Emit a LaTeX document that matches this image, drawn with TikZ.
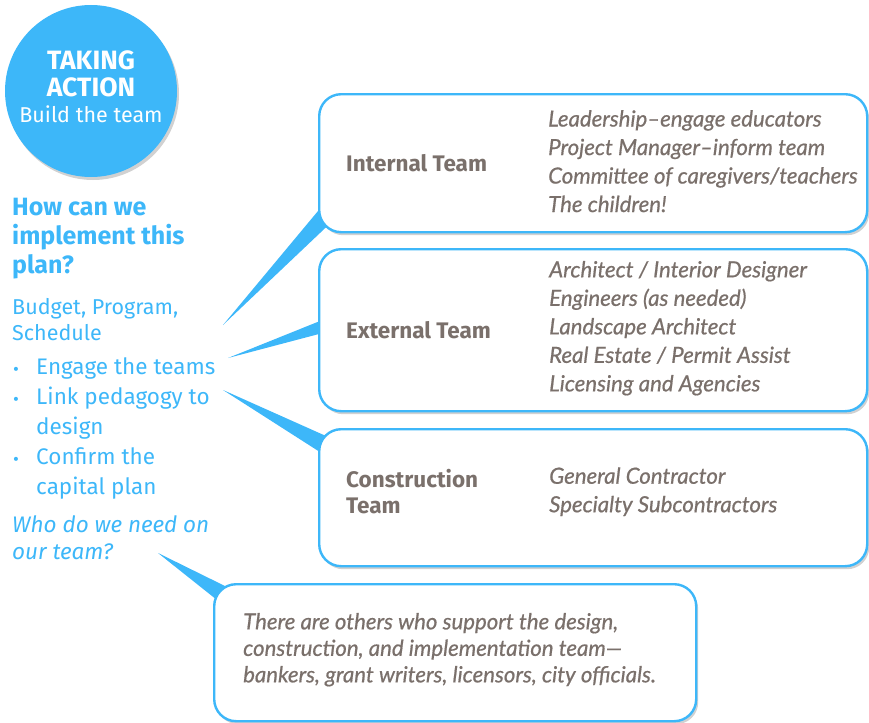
\documentclass[tikz,border=0pt]{standalone}
\usepackage{fontspec}
\setmainfont{Fira Sans}
\newfontfamily\notefont[FakeBold=0.6]{Lato}
\usepackage{xcolor}
\usetikzlibrary{positioning, calc, shadows, backgrounds}

\definecolor{skyblue}{HTML}{3DB7F9}
\definecolor{warmgray}{HTML}{7A706B}

\newcommand{\dotmark}{\makebox[24pt][l]{\hspace{1pt}\raisebox{-1pt}{\fontsize{18}{18}\selectfont\textbullet}}}

\begin{document}
\begin{tikzpicture}[
    x=1pt, y=-1pt,
    badge/.style={circle, fill=skyblue, minimum size=172pt, inner sep=0pt,
        drop shadow={shadow xshift=2pt, shadow yshift=-3pt, fill=black, opacity=0.18}},
    teambox/.style={rectangle, draw=skyblue, line width=2.4pt, fill=white, rounded corners=22pt,
        anchor=north west, minimum width=#1,
        drop shadow={shadow xshift=2pt, shadow yshift=-3pt, fill=black, opacity=0.18}},
    teambox/.default=548pt,
    teamname/.style={anchor=west, inner sep=0pt, align=left, text=warmgray,
        font=\fontsize{22.5}{26}\selectfont\bfseries},
    members/.style={anchor=west, inner sep=0pt, align=left, text=warmgray,
        font=\notefont\fontsize{22.2}{28.5}\selectfont\itshape},
    bluetext/.style={anchor=west, inner sep=0pt, align=left, text=skyblue,
        font=\fontsize{22}{27}\selectfont},
    pointer/.style={fill=skyblue}
]
% badge in the corner
\node[badge] (badge) at (91,91) {};
\node[align=center, text=white, font=\fontsize{21.5}{26.5}\selectfont] (badgetext) at ($(badge.center)+(0,-4)$)
    {{\fontsize{26.5}{26.5}\selectfont\bfseries TAKING}\\{\fontsize{26.5}{26.5}\selectfont\bfseries ACTION}\\Build the team};

% left column
\node[bluetext, font=\fontsize{25}{29}\selectfont\bfseries] (plan) at (12,239)
    {How can we\\implement this\\plan?};
\node[bluetext, font=\fontsize{21.5}{26}\selectfont] (budget) at (12,320) {Budget, Program,\\Schedule};
\node[bluetext, font=\fontsize{22.5}{30}\selectfont] (tasks) at (12,428)
    {\dotmark Engage the teams\\
     \dotmark Link pedagogy to\\
     \hspace*{24pt}design\\
     \dotmark Confirm the\\
     \hspace*{24pt}capital plan};
\node[bluetext, font=\fontsize{22.5}{27}\selectfont\itshape] (who) at (12,538) {Who do we need on\\our team?};

% team boxes
\node[teambox, minimum height=138pt] (int) at (318,93) {};
\node[teambox, minimum height=162pt] (ext) at (318,248) {};
\node[teambox, minimum height=137pt] (con) at (318,428) {};
\node[teambox=482pt, minimum height=137pt] (others) at (213,583) {};

% team names
\node[teamname] (intname) at ($(int.west)+(28,0)$) {Internal Team};
\node[teamname] (extname) at ($(ext.west)+(28,0)$) {External Team};
\node[teamname] (conname) at ($(con.west)+(28,-6)$) {Construction\\Team};

% who is in each team
\node[members] (intlist) at ($(int.west)+(230,-2)$)
    {Leadership–engage educators\\Project Manager–inform team\\Committee of caregivers/teachers\\The children!};
\node[members] (extlist) at ($(ext.west)+(231,-2)$)
    {Architect / Interior Designer\\Engineers (as needed)\\Landscape Architect\\Real Estate / Permit Assist\\Licensing and Agencies};
\node[members] (conlist) at ($(con.west)+(231,-6)$)
    {General Contractor\\Specialty Subcontractors};
\node[members, font=\notefont\fontsize{22.2}{26.5}\selectfont\itshape] (otherlist) at ($(others.west)+(30,-3)$)
    {There are others who support the design,\\construction, and implementation team—\\bankers, grant writers, licensors, city officials.};

% pointers from the left column to the boxes
\coordinate (tip1) at (223,325);
\coordinate (tip2) at (228,358);
\coordinate (tip3) at (223,390);
\coordinate (tip4) at (158,553);
\begin{scope}[on background layer]
\fill[pointer] (tip1) -- ($(int.south west)+(3,-26)$) -- ($(int.south west)+(10,-8)$) -- cycle;
\fill[pointer] (tip2) -- ($(ext.west)+(4,-10)$) -- ($(ext.west)+(4,3)$) -- cycle;
\fill[pointer] (tip3) -- ($(con.north west)+(8,8)$) -- ($(con.north west)+(5,26)$) -- cycle;
\fill[pointer] (tip4) -- ($(others.north west)+(14,4)$) -- ($(others.north west)+(4,17)$) -- cycle;
\end{scope}

\useasboundingbox (0,0) rectangle (869,722);
\end{tikzpicture}
\end{document}
